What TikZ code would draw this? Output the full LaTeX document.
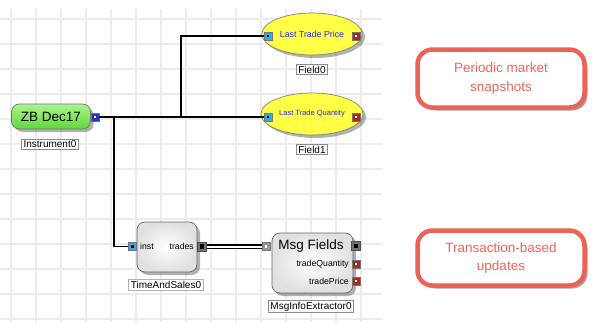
\documentclass[tikz,border=0pt]{standalone}
\usepackage{fontspec}
\setmainfont{Liberation Sans}
\usetikzlibrary{shapes.geometric,shadows}
\definecolor{gridc}{RGB}{236,236,236}
\definecolor{coral}{RGB}{236,98,84}
\definecolor{coraltxt}{RGB}{240,100,90}
\definecolor{greenT}{RGB}{170,245,140}
\definecolor{greenB}{RGB}{95,215,60}
\definecolor{yel}{RGB}{255,255,70}
\definecolor{portblue}{RGB}{35,55,175}
\definecolor{portcyan}{RGB}{40,175,235}
\definecolor{portred}{RGB}{175,40,20}
\definecolor{portgray}{RGB}{150,150,150}
\definecolor{portdark}{RGB}{115,115,115}
\definecolor{txtblue}{RGB}{40,40,235}
\tikzset{
  gridline/.style={draw=gridc, line width=1.4pt},
  wire/.style={draw=black, line width=1.8pt},
  dblwire/.style={draw=black, line width=1.8pt, double=white, double distance=2pt},
  port/.style={draw=black!55, line width=0.6pt, minimum size=8pt, inner sep=0pt},
  dotw/.style={path picture={\fill[white] ([xshift=-1.4pt,yshift=-1.4pt]path picture bounding box.center) rectangle ([xshift=1.4pt,yshift=1.4pt]path picture bounding box.center);}},
  dotk/.style={path picture={\fill[black] ([xshift=-1.4pt,yshift=-1.4pt]path picture bounding box.center) rectangle ([xshift=1.4pt,yshift=1.4pt]path picture bounding box.center);}},
  dotkbig/.style={path picture={\fill[black] ([xshift=-2.4pt,yshift=-2.4pt]path picture bounding box.center) rectangle ([xshift=2.4pt,yshift=2.4pt]path picture bounding box.center);}},
  lbl/.style={draw=black!45, fill=white, line width=0.6pt, font=\fontsize{10}{12}\selectfont, inner xsep=2pt, inner ysep=1.5pt},
  shad/.style={drop shadow={shadow xshift=3pt, shadow yshift=-3pt, fill=black, opacity=0.3}},
  greennode/.style={draw=black!55, line width=0.7pt, rounded corners=8pt, top color=greenT, bottom color=greenB, minimum width=79pt, minimum height=25pt, font=\fontsize{13.5}{15}\selectfont, shad},
  fieldnode/.style={ellipse, draw=black!50, line width=0.7pt, fill=yel, minimum width=82pt, minimum height=42pt, text=txtblue, shad},
  procbox/.style={draw=black!60, line width=0.7pt, rounded corners=8pt, inner color=white, outer color=black!12, shad},
  callout/.style={draw=coral, line width=4.5pt, rounded corners=15pt, fill=white, text=coraltxt, align=center, font=\fontsize{13.5}{18.5}\selectfont, minimum width=167pt, drop shadow={shadow xshift=3pt, shadow yshift=-3pt, fill=black, opacity=0.35}},
  smalltxt/.style={inner sep=0pt, font=\fontsize{8.7}{10}\selectfont}
}
\begin{document}
\begin{tikzpicture}[x=1pt,y=-1pt]
\useasboundingbox (0,0) rectangle (598,332);
\fill[white] (0,0) rectangle (598,332);
% grid
\foreach \gx in {11,36,...,361} \draw[gridline] (\gx,9) -- (\gx,322);
\foreach \gy in {19,44,...,319} \draw[gridline] (0,\gy) -- (382,\gy);

% instrument
\node[greennode] (zb) at (51,116.5) {ZB Dec17};
\node[port, fill=portblue, dotw] (zbp) at (95,117) {};
\node[lbl] (zbl) at (50,144) {Instrument0};

% fields
\node[fieldnode, font=\fontsize{8.8}{10}\selectfont] (f0) at (312,34) {Last Trade Price};
\node[port, fill=portcyan, dotk] (f0in) at (268,36) {};
\node[port, fill=portred, dotw] (f0out) at (356,36) {};
\node[lbl] (f0l) at (312,69.5) {Field0};

\node[fieldnode, font=\fontsize{7.5}{9}\selectfont] (f1) at (312,114) {Last Trade Quantity};
\node[port, fill=portcyan, dotk] (f1in) at (268,117) {};
\node[port, fill=portred, dotw] (f1out) at (356,117) {};
\node[lbl] (f1l) at (312,149.5) {Field1};

% time and sales
\node[procbox, minimum width=60pt, minimum height=50pt] (ts) at (167,247) {};
\node[smalltxt, anchor=west] (tsinst) at (140,246.5) {inst};
\node[smalltxt, anchor=east] (tstr) at (194,246.5) {trades};
\node[port, fill=portcyan, dotk] (tsin) at (132.5,246.5) {};
\node[port, fill=portdark, dotkbig, draw=black!70, minimum size=9pt] (tsout) at (202,246.5) {};
\node[lbl, draw=black!30, line width=1pt] (tsl) at (166,285) {TimeAndSales0};

% msg fields
\node[procbox, minimum width=81pt, minimum height=60pt] (mf) at (312.5,263) {};
\node[inner sep=0pt, font=\fontsize{13.5}{15}\selectfont] (mft) at (311,246.5) {Msg Fields};
\node[smalltxt, anchor=east] (mfq) at (349,264) {tradeQuantity};
\node[smalltxt, anchor=east] (mfp) at (349,281) {tradePrice};
\node[port, fill=portgray, dotw] (mfin) at (266,246.5) {};
\node[port, fill=portdark, dotkbig, draw=black!70, minimum size=9pt] (mfout) at (356,246) {};
\node[port, fill=portred, dotw] (mfqp) at (356,264) {};
\node[port, fill=portred, dotw] (mfpp) at (356,281) {};
\node[lbl] (mfl) at (311,306.5) {MsgInfoExtractor0};

% wires
\coordinate (j1) at (181,117);
\coordinate (j2) at (114,117);
\draw[wire] (zbp.east) -- (f1in.west);
\draw[wire] (j1) |- (f0in.west);
\draw[wire] (j2) |- (tsin.west);
\draw[dblwire] (tsout.east) -- (mfin.west);

% callouts
\node[callout, minimum height=58pt] (c1) at (501,78.5) {Periodic market\\snapshots};
\node[callout, minimum height=55pt] (c2) at (501,258) {Transaction-based\\updates};
\end{tikzpicture}
\end{document}
